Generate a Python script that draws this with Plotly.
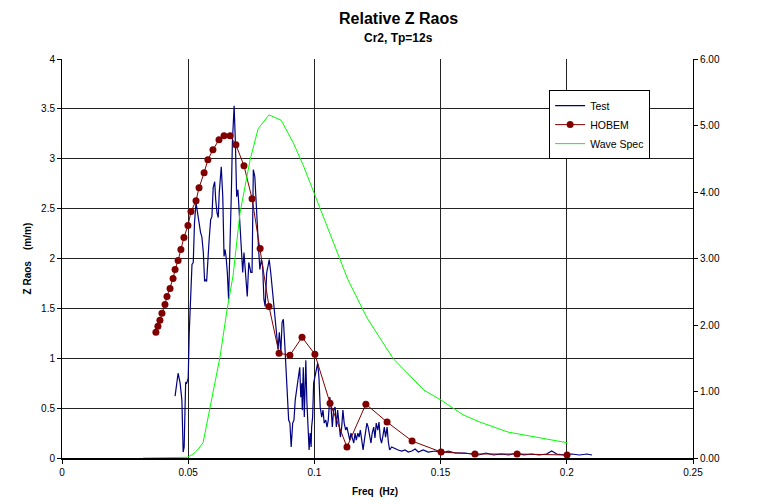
import plotly.graph_objects as go

# ---------------- data ----------------
test_freq = [0.0448, 0.0460, 0.0468, 0.0475, 0.0480, 0.0484, 0.0487, 0.0490, 0.0494, 0.0500,
             0.0504, 0.0510, 0.0515, 0.0520, 0.0525, 0.0531, 0.0536, 0.0544, 0.0549, 0.0554,
             0.0560, 0.0565, 0.0568, 0.0573, 0.0578, 0.0583, 0.0589, 0.0594, 0.0599, 0.0605,
             0.0609, 0.0614, 0.0619, 0.0623, 0.0631, 0.0637, 0.0642, 0.0646, 0.0650, 0.0655,
             0.0660, 0.0666, 0.0671, 0.0675, 0.0679, 0.0682, 0.0687, 0.0692, 0.0697, 0.0703,
             0.0711, 0.0716, 0.0721, 0.0726, 0.0734, 0.0740, 0.0748, 0.0753, 0.0758, 0.0764,
             0.0769, 0.0774, 0.0779, 0.0784, 0.0790, 0.0795, 0.0800, 0.0805, 0.0811, 0.0816,
             0.0821, 0.0827, 0.0832, 0.0837, 0.0845, 0.0851, 0.0856, 0.0861, 0.0867, 0.0872,
             0.0877, 0.0883, 0.0888, 0.0893, 0.0898, 0.0903, 0.0908, 0.0914, 0.0919, 0.0924,
             0.0930, 0.0936, 0.0942, 0.0946, 0.0950, 0.0952, 0.0956, 0.0960, 0.0966, 0.0970,
             0.0974, 0.0979, 0.0983, 0.0987, 0.0989, 0.0993, 0.0997, 0.1002, 0.1007, 0.1013,
             0.1018, 0.1023, 0.1029, 0.1034, 0.1039, 0.1045, 0.1050, 0.1055, 0.1061, 0.1066,
             0.1071, 0.1076, 0.1082, 0.1087, 0.1092, 0.1097, 0.1103, 0.1108, 0.1113, 0.1118,
             0.1124, 0.1129, 0.1134, 0.1140, 0.1145, 0.1150, 0.1156, 0.1161, 0.1166, 0.1172,
             0.1177, 0.1182, 0.1187, 0.1193, 0.1198, 0.1203, 0.1208, 0.1213, 0.1219, 0.1224,
             0.1229, 0.1235, 0.1240, 0.1245, 0.1251, 0.1256, 0.1261, 0.1266, 0.1272, 0.1277,
             0.1282, 0.1288, 0.1293, 0.1298, 0.1306, 0.1314, 0.1322, 0.1332, 0.1346, 0.1359,
             0.1372, 0.1386, 0.1399, 0.1412, 0.1431, 0.1451, 0.1478, 0.1504, 0.1531, 0.1557,
             0.1597, 0.1620, 0.1650, 0.1680, 0.1710, 0.1740, 0.1770, 0.1800, 0.1830, 0.1860,
             0.1890, 0.1920, 0.1940, 0.1960, 0.1990, 0.2020, 0.2050, 0.2080, 0.2100]
test_rao = [0.62, 0.85, 0.75, 0.58, 0.06, 0.11, 0.45, 0.76, 0.75, 0.80,
            1.25, 1.72, 1.94, 1.96, 2.36, 2.56, 2.46, 2.36, 2.26, 2.22,
            2.06, 1.77, 1.79, 1.77, 2.02, 2.19, 2.39, 2.42, 2.71, 2.77,
            2.59, 2.46, 2.41, 2.66, 2.92, 2.62, 2.02, 2.09, 2.02, 1.86,
            1.59, 2.09, 2.66, 3.16, 3.52, 3.53, 3.16, 2.62, 2.69, 2.42,
            2.09, 1.86, 2.06, 1.92, 1.62, 1.96, 1.86, 1.86, 2.89, 2.82,
            2.52, 2.26, 2.09, 1.89, 1.99, 1.92, 1.59, 1.52, 1.86, 1.92,
            1.99, 1.86, 1.72, 1.59, 1.42, 1.26, 1.09, 1.26, 1.06, 1.36,
            1.39, 1.12, 0.85, 0.58, 0.38, 0.35, 0.11, 0.35, 0.38, 0.58,
            0.71, 0.81, 0.91, 0.61, 0.75, 0.48, 0.91, 0.41, 0.98, 0.58,
            0.38, 0.08, 0.25, 0.11, 0.31, 0.41, 0.75, 0.81, 0.88, 0.95,
            0.81, 0.51, 0.41, 0.48, 0.35, 0.38, 0.31, 0.38, 0.61, 0.51,
            0.31, 0.48, 0.51, 0.31, 0.48, 0.38, 0.21, 0.31, 0.48, 0.35,
            0.28, 0.31, 0.25, 0.18, 0.25, 0.21, 0.15, 0.25, 0.18, 0.25,
            0.21, 0.28, 0.18, 0.08, 0.18, 0.28, 0.35, 0.31, 0.20, 0.15,
            0.25, 0.31, 0.20, 0.35, 0.28, 0.36, 0.20, 0.15, 0.23, 0.31,
            0.21, 0.31, 0.16, 0.08, 0.11, 0.10, 0.09, 0.08, 0.07, 0.08,
            0.06, 0.07, 0.09, 0.06, 0.08, 0.06, 0.07, 0.05, 0.07, 0.05,
            0.05, 0.04, 0.03, 0.05, 0.03, 0.04, 0.03, 0.05, 0.03, 0.04,
            0.03, 0.04, 0.07, 0.04, 0.03, 0.04, 0.03, 0.04, 0.03]

hobem_freq = [0.0372, 0.0380, 0.0388, 0.0396, 0.0408, 0.0416, 0.0428, 0.0440, 0.0448, 0.0460,
              0.0471, 0.0483, 0.0499, 0.0511, 0.0531, 0.0543, 0.0563, 0.0578, 0.0598, 0.0622,
              0.0642, 0.0666, 0.0689, 0.0721, 0.0753, 0.0785, 0.0820, 0.0860, 0.0903, 0.0951,
              0.1002, 0.1062, 0.1129, 0.1204, 0.1288, 0.1387, 0.1502, 0.1636, 0.1803, 0.2001]
hobem_rao = [1.26, 1.32, 1.38, 1.45, 1.54, 1.62, 1.70, 1.80, 1.89, 1.98,
             2.09, 2.21, 2.33, 2.47, 2.58, 2.71, 2.86, 2.99, 3.09, 3.19,
             3.23, 3.23, 3.14, 2.93, 2.60, 2.10, 1.52, 1.05, 1.03, 1.21,
             1.04, 0.55, 0.11, 0.54, 0.36, 0.17, 0.06, 0.04, 0.04, 0.03]

spec_freq = [0.0321, 0.0495, 0.0511, 0.0527, 0.0543, 0.0559, 0.0586, 0.0626, 0.0654, 0.0678,
             0.0705, 0.0745, 0.0777, 0.0820, 0.0868, 0.0915, 0.0955, 0.0994, 0.1022, 0.1133,
             0.1208, 0.1311, 0.1434, 0.1502, 0.1589, 0.1656, 0.1767, 0.2001]
spec_val = [0.00, 0.01, 0.04, 0.08, 0.15, 0.23, 0.75, 1.52, 2.23, 2.75,
            3.68, 4.48, 4.95, 5.16, 5.08, 4.75, 4.41, 4.03, 3.73, 2.68,
            2.11, 1.50, 1.02, 0.87, 0.65, 0.54, 0.39, 0.23]

x_ticks = [0, 0.05, 0.1, 0.15, 0.2, 0.25]

FONT = "Liberation Sans, Arial, sans-serif"

fig = go.Figure()
fig.add_trace(go.Scatter(x=test_freq, y=test_rao, mode="lines", name="Test",
                         line=dict(color="#000080", width=1.2)))
fig.add_trace(go.Scatter(x=hobem_freq, y=hobem_rao, mode="lines+markers", name="HOBEM",
                         line=dict(color="#800000", width=1),
                         marker=dict(color="#800000", size=7)))
fig.add_trace(go.Scatter(x=spec_freq, y=spec_val, mode="lines", name="Wave Spec",
                         line=dict(color="#00FF00", width=1), yaxis="y2"))

fig.update_layout(
    width=763, height=504,
    margin=dict(l=62, r=70, t=59, b=46),
    paper_bgcolor="white", plot_bgcolor="white",
    font=dict(family=FONT, size=10, color="black"),
    showlegend=True,
    legend=dict(x=0.772, y=0.922, xanchor="left", yanchor="top",
                bgcolor="white", bordercolor="black", borderwidth=1,
                font=dict(size=10.5, family=FONT), tracegroupgap=0,
                itemwidth=30),
    xaxis=dict(range=[0, 0.25], tickvals=x_ticks, ticktext=[str(v) for v in x_ticks],
               showgrid=True, gridcolor="#222222", gridwidth=1,
               showline=True, linecolor="black", linewidth=2,
               ticks="outside", ticklen=4, tickcolor="black",
               zeroline=False, fixedrange=True),
    yaxis=dict(range=[0, 4], dtick=0.5, showgrid=True, gridcolor="#222222", gridwidth=1,
               showline=True, linecolor="black", linewidth=1,
               ticks="outside", ticklen=4, tickcolor="black",
               zeroline=False),
    yaxis2=dict(range=[0, 6], dtick=1, tickformat=".2f", overlaying="y", side="right",
                showgrid=False, showline=True, linecolor="black", linewidth=1,
                ticks="outside", ticklen=4, tickcolor="black", zeroline=False),
    annotations=[
        dict(text="<b>Relative Z Raos</b>", x=0.534, y=1.101, xref="paper", yref="paper",
             showarrow=False, font=dict(size=16, family=FONT), xanchor="center", yanchor="middle"),
        dict(text="<b>Cr2, Tp=12s</b>", x=0.534, y=1.053, xref="paper", yref="paper",
             showarrow=False, font=dict(size=12, family=FONT), xanchor="center", yanchor="middle"),
        dict(text="<b>Z Raos    (m/m)</b>", x=-0.054, y=0.50, xref="paper", yref="paper",
             showarrow=False, textangle=-90, font=dict(size=10, family=FONT),
             xanchor="center", yanchor="middle"),
        dict(text="<b>Freq  (Hz)</b>", x=0.496, y=-0.085, xref="paper", yref="paper",
             showarrow=False, font=dict(size=10, family=FONT), xanchor="center", yanchor="middle"),
    ],
)

fig.write_html("out.html", config={"displayModeBar": False})
